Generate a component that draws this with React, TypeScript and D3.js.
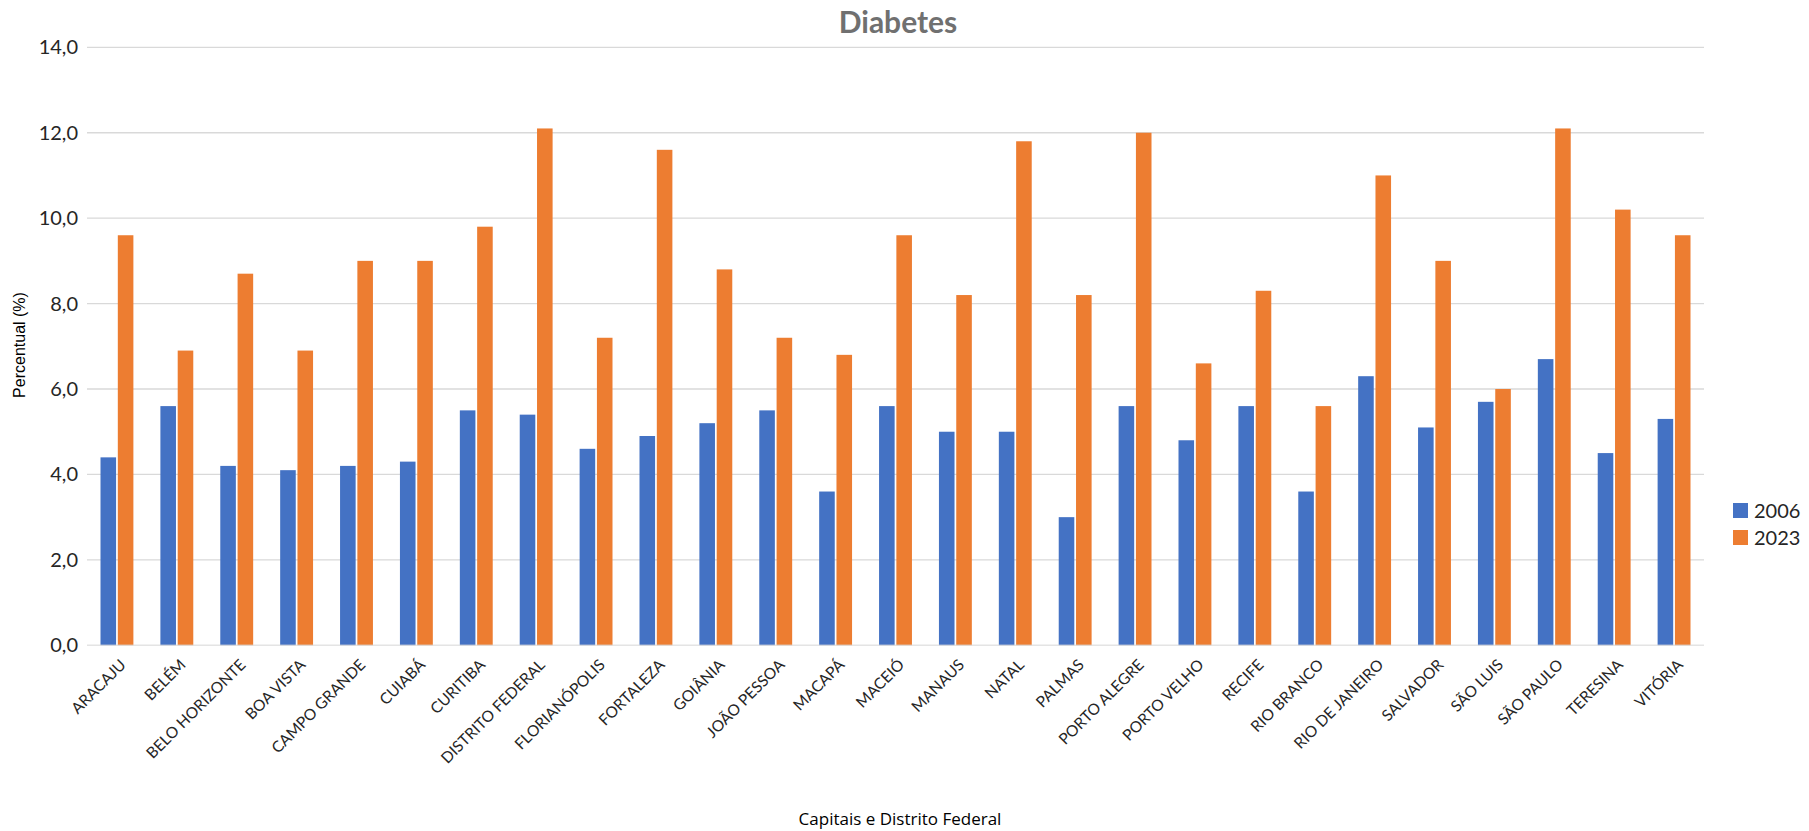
import React from "react";
import * as d3 from "d3";

const categories = [
  "ARACAJU", "BELÉM", "BELO HORIZONTE", "BOA VISTA", "CAMPO GRANDE", "CUIABÁ", "CURITIBA",
  "DISTRITO FEDERAL", "FLORIANÓPOLIS", "FORTALEZA", "GOIÂNIA", "JOÃO PESSOA", "MACAPÁ",
  "MACEIÓ", "MANAUS", "NATAL", "PALMAS", "PORTO ALEGRE", "PORTO VELHO", "RECIFE",
  "RIO BRANCO", "RIO DE JANEIRO", "SALVADOR", "SÃO LUIS", "SÃO PAULO", "TERESINA", "VITÓRIA",
];
const values2006 = [4.4, 5.6, 4.2, 4.1, 4.2, 4.3, 5.5, 5.4, 4.6, 4.9, 5.2, 5.5, 3.6, 5.6, 5.0, 5.0, 3.0, 5.6, 4.8, 5.6, 3.6, 6.3, 5.1, 5.7, 6.7, 4.5, 5.3];
const values2023 = [9.6, 6.9, 8.7, 6.9, 9.0, 9.0, 9.8, 12.1, 7.2, 11.6, 8.8, 7.2, 6.8, 9.6, 8.2, 11.8, 8.2, 12.0, 6.6, 8.3, 5.6, 11.0, 9.0, 6.0, 12.1, 10.2, 9.6];
const seriesNames = ["2006", "2023"];
const seriesColors = ["#4472C4", "#ED7D31"];
const yTicks = [0, 2, 4, 6, 8, 10, 12, 14];

const W = 1809;
const H = 831;
const left = 87;
const right = 1704;
const top = 47.3;
const bottom = 645.3;

export default function App() {
  const x = d3.scaleBand<string>().domain(categories).range([left, right]).paddingInner(0).paddingOuter(0);
  const inner = d3.scaleBand<string>().domain(seriesNames).range([0, x.bandwidth()]).paddingInner(0.1).paddingOuter(0.78);
  const y = d3.scaleLinear().domain([0, 14]).range([bottom, top]);
  const fmt = (v: number) => v.toFixed(1).replace(".", ",");
  const series = [values2006, values2023];
  const tickFont = "Lato, 'Open Sans', sans-serif";

  return (
    <svg width={W} height={H} style={{ position: "absolute", left: 0, top: 0, background: "#fff" }}>
      <rect x={0} y={0} width={W} height={H} fill="#fff" />
      <text x={898} y={33} textAnchor="middle" fontFamily={tickFont} fontWeight={700} fontSize={30} fill="#707070">
        Diabetes
      </text>
      {yTicks.map((t) => (
        <g key={t}>
          {t !== 0 && <line x1={left} x2={right} y1={y(t)} y2={y(t)} stroke="#d9d9d9" strokeWidth={1.3} />}
          <text x={78} y={y(t)} dy="0.35em" textAnchor="end" fontFamily={tickFont} fontSize={20} fill="#262626">
            {fmt(t)}
          </text>
        </g>
      ))}
      {series.map((vals, si) =>
        vals.map((v, i) => (
          <rect
            key={si + "-" + i}
            x={(x(categories[i]) as number) + (inner(seriesNames[si]) as number)}
            y={y(v)}
            width={inner.bandwidth()}
            height={y(0) - y(v)}
            fill={seriesColors[si]}
          />
        ))
      )}
      <line x1={left} x2={right} y1={y(0)} y2={y(0)} stroke="#d9d9d9" strokeOpacity={0.7} strokeWidth={1.5} />
      {categories.map((c) => {
        const cx = (x(c) as number) + x.bandwidth() / 2 + 6;
        const cy = 662;
        return (
          <text
            key={c}
            transform={`translate(${cx},${cy}) rotate(-45)`}
            textAnchor="end"
            dy="0.35em"
            fontFamily={tickFont}
            fontSize={15.5}
            fill="#262626"
          >
            {c}
          </text>
        );
      })}
      <text
        transform={`translate(19,345) rotate(-90)`}
        textAnchor="middle"
        dy="0.35em"
        fontFamily="'Liberation Sans', Arial, sans-serif"
        fontSize={16}
        fill="#000"
      >
        Percentual (%)
      </text>
      <text x={900} y={825} textAnchor="middle" fontFamily="'Open Sans', sans-serif" fontSize={17} fill="#000">
        Capitais e Distrito Federal
      </text>
      {seriesNames.map((s, i) => (
        <g key={s} transform={`translate(1733,${503 + i * 27})`}>
          <rect x={0} y={0} width={15} height={15} fill={seriesColors[i]} />
          <text x={21} y={7.5} dy="0.35em" fontFamily={tickFont} fontSize={20} fill="#262626">
            {s}
          </text>
        </g>
      ))}
    </svg>
  );
}
